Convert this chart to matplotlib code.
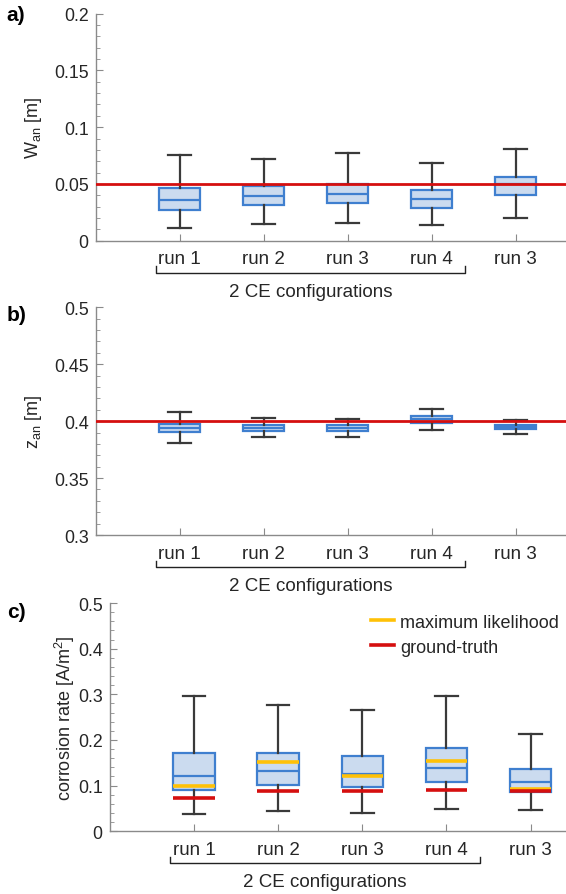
import matplotlib
matplotlib.use("Agg")
import matplotlib.pyplot as plt
from matplotlib.ticker import MultipleLocator
from matplotlib.lines import Line2D

plt.rcParams['font.family'] = ['Liberation Sans', 'DejaVu Sans']
plt.rcParams['mathtext.default'] = 'regular'

runs = ['run 1', 'run 2', 'run 3', 'run 4', 'run 3']

# panel a: W_an [m]  (whislo, q1, median, q3, whishi)
w_lo = [0.0112, 0.0144, 0.0153, 0.0135, 0.0203]
w_q1 = [0.0270, 0.0311, 0.0329, 0.0290, 0.0399]
w_med = [0.0361, 0.0394, 0.0411, 0.0370, 0.0496]
w_q3 = [0.0464, 0.0482, 0.0502, 0.0449, 0.0561]
w_hi = [0.0752, 0.0720, 0.0773, 0.0687, 0.0808]
w_true = 0.05

# panel b: z_an [m]
z_lo = [0.3808, 0.3858, 0.3858, 0.3925, 0.3887]
z_q1 = [0.3902, 0.3916, 0.3913, 0.3986, 0.3928]
z_med = [0.3937, 0.3940, 0.3940, 0.4019, 0.3949]
z_q3 = [0.3972, 0.3966, 0.3966, 0.4045, 0.3966]
z_hi = [0.4078, 0.4028, 0.4019, 0.4109, 0.4013]
z_true = 0.4

# panel c: corrosion rate [A/m^2]
c_lo = [0.0386, 0.0445, 0.0401, 0.0482, 0.0460]
c_q1 = [0.0904, 0.1021, 0.0977, 0.1073, 0.0861]
c_med = [0.1218, 0.1314, 0.1255, 0.1387, 0.1080]
c_q3 = [0.1722, 0.1708, 0.1642, 0.1824, 0.1365]
c_hi = [0.2963, 0.2759, 0.2663, 0.2963, 0.2124]
c_ml = [0.0999, 0.1511, 0.1204, 0.1540, 0.0920]
c_gt = [0.0737, 0.0883, 0.0883, 0.0912, 0.0883]

w_ticks = [0, 0.05, 0.1, 0.15, 0.2]
w_tlabels = ['0', '0.05', '0.1', '0.15', '0.2']
z_ticks = [0.3, 0.35, 0.4, 0.45, 0.5]
z_tlabels = ['0.3', '0.35', '0.4', '0.45', '0.5']
c_ticks = [0, 0.1, 0.2, 0.3, 0.4, 0.5]
c_tlabels = ['0', '0.1', '0.2', '0.3', '0.4', '0.5']

blue = '#3f7fcf'
fill = '#cbdbef'
dark = '#3a3a3a'
red = '#d50f0f'
yellow = '#ffc107'
axcol = '#8a8a8a'
txt = '#262626'

pos = [1, 2, 3, 4, 5]


def boxes(ax, lo, q1, med, q3, hi):
    stats = []
    for i in range(len(pos)):
        stats.append(dict(whislo=lo[i], q1=q1[i], med=med[i], q3=q3[i], whishi=hi[i]))
    ax.bxp(stats, positions=pos, widths=0.49, showfliers=False, patch_artist=True,
           boxprops=dict(facecolor=fill, edgecolor=blue, linewidth=1.6),
           medianprops=dict(color=blue, linewidth=1.6),
           whiskerprops=dict(color=dark, linewidth=1.6),
           capprops=dict(color=dark, linewidth=1.6), capwidths=0.27)


def style(ax, ylim, ticks, tlabels, minor, xmax):
    ax.set_xlim(0, xmax)
    ax.set_ylim(*ylim)
    ax.set_xticks(pos)
    ax.set_xticklabels(runs)
    ax.set_yticks(ticks, tlabels)
    ax.yaxis.set_minor_locator(MultipleLocator(minor))
    for s in ['top', 'right']:
        ax.spines[s].set_visible(False)
    for s in ['left', 'bottom']:
        ax.spines[s].set_color(axcol)
        ax.spines[s].set_linewidth(1.0)
    ax.tick_params(direction='in', colors=axcol, labelcolor=txt, labelsize=12.8, length=5, pad=5)
    ax.tick_params(which='minor', direction='in', colors=axcol, length=3)
    ax.tick_params(axis='x', pad=7, labelsize=13.5)
    tr = ax.get_xaxis_transform()
    ax.plot([0.72, 0.72, 4.4, 4.4], [-0.112, -0.141, -0.141, -0.112], color='#222222',
            lw=1.0, transform=tr, clip_on=False)
    ax.text(2.56, -0.222, '2 CE configurations', transform=tr, ha='center', va='center',
            fontsize=13.5, color=txt)


fig = plt.figure(figsize=(5.66, 8.95), dpi=100)

ax1 = fig.add_axes([0.1690, 0.7300, 0.8310, 0.2536])
boxes(ax1, w_lo, w_q1, w_med, w_q3, w_hi)
ax1.axhline(w_true, color=red, lw=2.0, zorder=5)
style(ax1, (0, 0.2), w_ticks, w_tlabels, 0.01, 5.6)
ax1.set_ylabel('W$_{an}$ [m]', fontsize=13, color=txt, labelpad=7)

ax2 = fig.add_axes([0.1690, 0.4011, 0.8310, 0.2544])
boxes(ax2, z_lo, z_q1, z_med, z_q3, z_hi)
ax2.axhline(z_true, color=red, lw=2.0, zorder=5)
style(ax2, (0.3, 0.5), z_ticks, z_tlabels, 0.01, 5.6)
ax2.set_ylabel('z$_{an}$ [m]', fontsize=13, color=txt, labelpad=7)

ax3 = fig.add_axes([0.1938, 0.0701, 0.8062, 0.2550])
boxes(ax3, c_lo, c_q1, c_med, c_q3, c_hi)
ax3.hlines(c_ml, [p - 0.245 for p in pos], [p + 0.245 for p in pos], color=yellow, lw=2.6, zorder=5)
ax3.hlines(c_gt, [p - 0.245 for p in pos], [p + 0.245 for p in pos], color=red, lw=2.6, zorder=5)
style(ax3, (0, 0.5), c_ticks, c_tlabels, 0.02, 5.42)
ax3.set_ylabel('corrosion rate [A/m$^2$]', fontsize=13, color=txt, labelpad=1)
handles = [Line2D([], [], color=yellow, lw=2.6), Line2D([], [], color=red, lw=2.6)]
ax3.legend(handles, ['maximum likelihood', 'ground-truth'], loc='upper right', frameon=False,
           fontsize=13, handlelength=1.3, handletextpad=0.3, labelspacing=0.45,
           borderaxespad=0.0, bbox_to_anchor=(1.0, 0.985), labelcolor=txt)

fig.text(0.012, 0.983, 'a)', fontsize=15, fontweight='bold', va='center')
fig.text(0.012, 0.648, 'b)', fontsize=15, fontweight='bold', va='center')
fig.text(0.012, 0.316, 'c)', fontsize=15, fontweight='bold', va='center')

fig.savefig('out.png', dpi=100)
